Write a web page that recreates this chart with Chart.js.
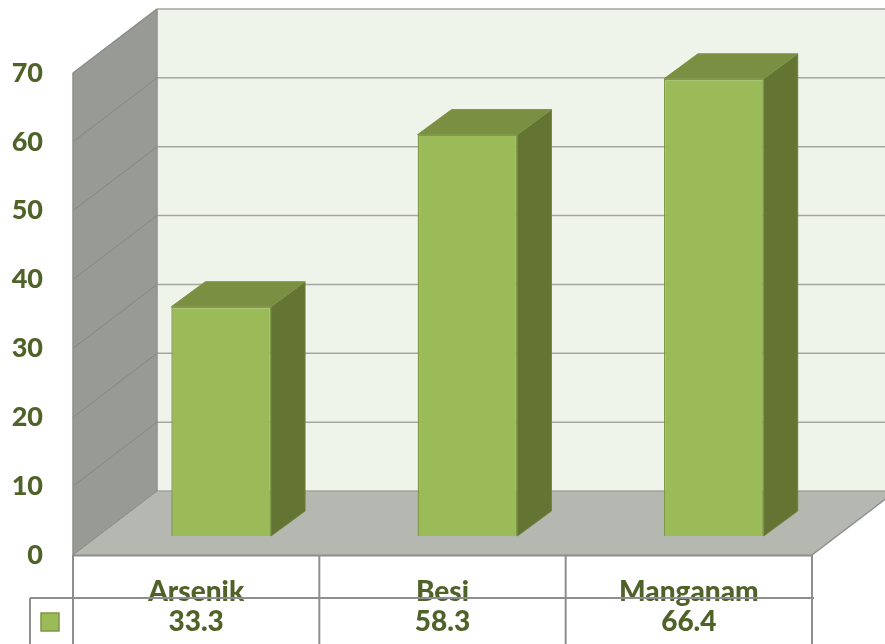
<!DOCTYPE html>
<html>
<head>
<meta charset="utf-8">
<style>html,body{margin:0;padding:0;background:#fff;overflow:hidden}canvas{display:block}</style>
<script src="https://cdn.jsdelivr.net/npm/chart.js@4"></script>
</head>
<body>
<canvas id="c" width="885" height="644"></canvas>
<script>
const categories = ['Arsenik', 'Besi', 'Manganam'];
const values = [33.3, 58.3, 66.4];
const seriesName = 'Konsentrasi';

const WALL = {dx: 84, dy: -64};
const BAR_OFFSET = {dx: 25, dy: -19};
const BAR_DEPTH = {dx: 34, dy: -25};
const LINE = '#8e8e8e';

function poly(ctx, pts, fill, stroke, lw) {
  ctx.beginPath();
  pts.forEach((p, i) => i ? ctx.lineTo(p[0], p[1]) : ctx.moveTo(p[0], p[1]));
  ctx.closePath();
  if (fill) { ctx.fillStyle = fill; ctx.fill(); }
  if (stroke) { ctx.strokeStyle = stroke; ctx.lineWidth = lw || 1; ctx.stroke(); }
}

const box3d = {
  id: 'box3d',
  beforeDatasetsDraw(chart) {
    const {ctx, chartArea: a, scales: {y}} = chart;
    const {dx, dy} = WALL;
    ctx.save();
    // back wall
    poly(ctx, [[a.left + dx, a.top + dy], [a.right + dx, a.top + dy], [a.right + dx, a.bottom + dy], [a.left + dx, a.bottom + dy]], '#eff4eb');
    // side wall
    poly(ctx, [[a.left, a.top], [a.left + dx, a.top + dy], [a.left + dx, a.bottom + dy], [a.left, a.bottom]], '#989a94');
    // floor
    poly(ctx, [[a.left, a.bottom], [a.left + dx, a.bottom + dy], [a.right + dx, a.bottom + dy], [a.right, a.bottom]], '#b5b7b1');
    // grid lines on both walls
    y.ticks.forEach(t => {
      const py = y.getPixelForValue(t.value);
      ctx.beginPath();
      ctx.moveTo(a.left, py);
      ctx.lineTo(a.left + dx, py + dy);
      ctx.strokeStyle = '#85877f';
      ctx.lineWidth = 1;
      ctx.stroke();
      ctx.beginPath();
      ctx.moveTo(a.left + dx, py + dy);
      ctx.lineTo(a.right + dx, py + dy);
      ctx.strokeStyle = '#a3a59f';
      ctx.lineWidth = 1.5;
      ctx.stroke();
    });
    // edges
    ctx.strokeStyle = LINE;
    ctx.lineWidth = 1.5;
    ctx.beginPath();
    ctx.moveTo(a.left, a.bottom); ctx.lineTo(a.left, a.top); ctx.lineTo(a.left + dx, a.top + dy);
    ctx.moveTo(a.left + dx, a.top + dy); ctx.lineTo(a.left + dx, a.bottom + dy);
    ctx.moveTo(a.right, a.bottom); ctx.lineTo(a.right + dx, a.bottom + dy);
    ctx.stroke();
    ctx.restore();

    // bars stand inside the box: shift the plane, then draw their side and top
    ctx.save();
    ctx.translate(BAR_OFFSET.dx, BAR_OFFSET.dy);
    chart.getDatasetMeta(0).data.forEach(b => {
      const l = b.x - b.width / 2, r = b.x + b.width / 2;
      const d = BAR_DEPTH;
      poly(ctx, [[r, b.y], [r + d.dx, b.y + d.dy], [r + d.dx, b.base + d.dy], [r, b.base]], '#647433', '#6f8338', 1);
      poly(ctx, [[l, b.y], [l + d.dx, b.y + d.dy], [r + d.dx, b.y + d.dy], [r, b.y]], '#7a8f42', '#7f9648', 1);
    });
  },
  afterDatasetsDraw(chart) {
    chart.ctx.restore();
  },
  afterDraw(chart) {
    const {ctx, chartArea: a} = chart;
    const H = chart.height, rowY = 598, keyL = 30;
    ctx.save();
    ctx.strokeStyle = LINE;
    ctx.lineWidth = 2;
    ctx.beginPath();
    // front edge of the floor, table rows and columns
    ctx.moveTo(a.left, a.bottom + 0.5); ctx.lineTo(a.right, a.bottom + 0.5);
    ctx.moveTo(keyL, rowY); ctx.lineTo(a.right + 2, rowY);
    ctx.moveTo(keyL, rowY); ctx.lineTo(keyL, H);
    const step = (a.right - a.left) / categories.length;
    for (let i = 0; i <= categories.length; i++) {
      const px = a.left + step * i;
      ctx.moveTo(px, a.bottom); ctx.lineTo(px, H);
    }
    ctx.stroke();
    // legend key
    ctx.fillStyle = chart.data.datasets[0].backgroundColor;
    ctx.strokeStyle = '#7f9648';
    ctx.lineWidth = 1.5;
    ctx.fillRect(41, 613, 18, 18);
    ctx.strokeRect(41, 613, 18, 18);
    ctx.restore();
  }
};

new Chart(document.getElementById('c'), {
  type: 'bar',
  data: {
    labels: categories.map((c, i) => [c, values[i].toFixed(1)]),
    datasets: [{
      label: seriesName,
      data: values,
      backgroundColor: '#9bbb59',
      borderColor: '#7f9a48',
      borderWidth: 1.5,
      barPercentage: 0.405,
      categoryPercentage: 1
    }]
  },
  plugins: [box3d],
  options: {
    responsive: false,
    animation: false,
    events: [],
    layout: {padding: {top: 73, right: 73, left: 0, bottom: 0}},
    plugins: {legend: {display: false}, tooltip: {enabled: false}},
    scales: {
      x: {
        grid: {display: false, drawTicks: false},
        border: {display: false},
        afterFit(s) { s.height = 89; },
        ticks: {
          maxRotation: 0, minRotation: 0, autoSkip: false, padding: 22,
          color: '#4f6228',
          font: {family: 'Lato', weight: 900, size: 28, lineHeight: '30px'}
        }
      },
      y: {
        min: 0, max: 70,
        grid: {display: false, drawTicks: false},
        border: {display: false},
        afterFit(s) { s.width = 73; },
        ticks: {
          stepSize: 10, padding: 30,
          color: '#4f6228',
          font: {family: 'Lato', weight: 900, size: 27}
        }
      }
    }
  }
});
</script>
</body>
</html>
